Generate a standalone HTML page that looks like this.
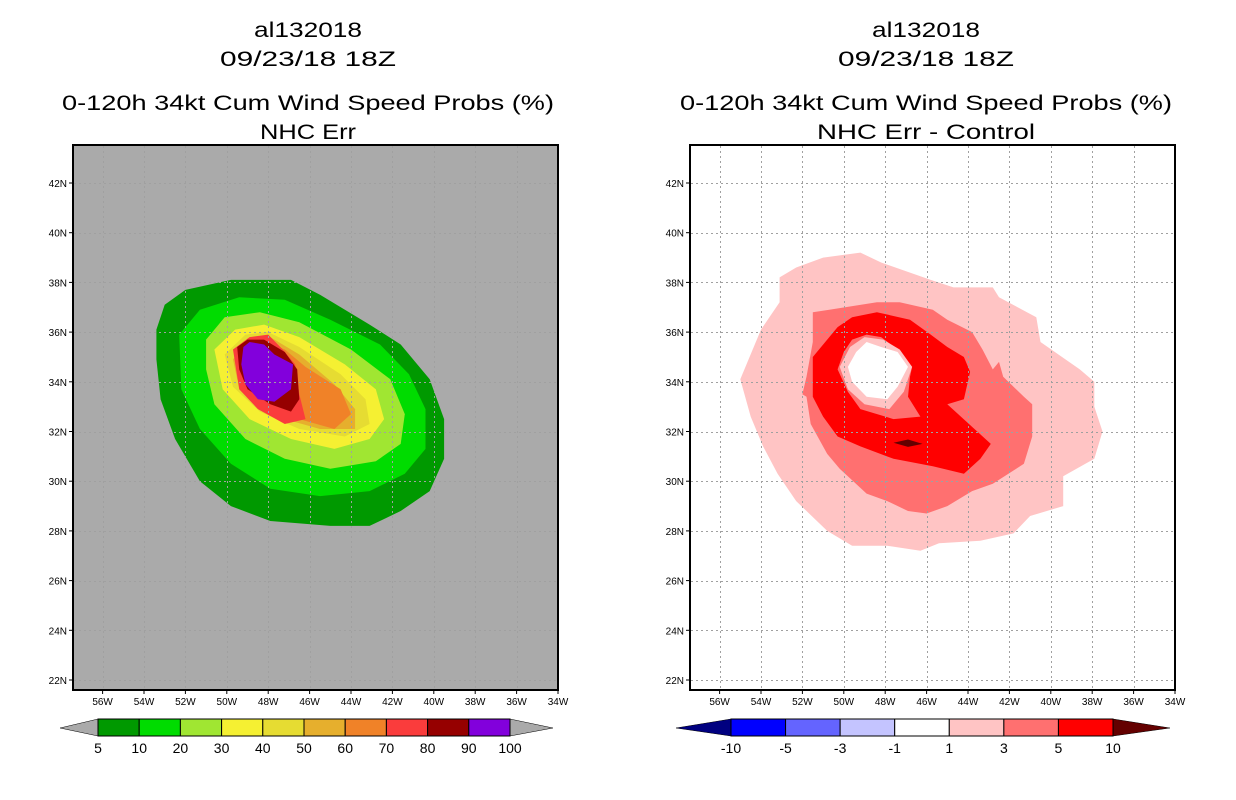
<!DOCTYPE html>
<html><head><meta charset="utf-8"><style>
html,body{margin:0;padding:0;background:#fff;}
svg{display:block;font-family:"Liberation Sans",sans-serif;}
</style></head><body>
<svg id="svg" width="1236" height="800" viewBox="0 0 1236 800" xmlns="http://www.w3.org/2000/svg">
<g font-size="21" text-anchor="middle" fill="#000">
<text x="308" y="37" textLength="108" lengthAdjust="spacingAndGlyphs">al132018</text>
<text x="308" y="66" textLength="176" lengthAdjust="spacingAndGlyphs">09/23/18 18Z</text>
<text x="308" y="110" textLength="492" lengthAdjust="spacingAndGlyphs">0-120h 34kt Cum Wind Speed Probs (%)</text>
<text x="308" y="139" textLength="96" lengthAdjust="spacingAndGlyphs">NHC Err</text>
</g>
<g font-size="21" text-anchor="middle" fill="#000">
<text x="926" y="37" textLength="108" lengthAdjust="spacingAndGlyphs">al132018</text>
<text x="926" y="66" textLength="176" lengthAdjust="spacingAndGlyphs">09/23/18 18Z</text>
<text x="926" y="110" textLength="492" lengthAdjust="spacingAndGlyphs">0-120h 34kt Cum Wind Speed Probs (%)</text>
<text x="926" y="139" textLength="218" lengthAdjust="spacingAndGlyphs">NHC Err - Control</text>
</g>
</svg>
<script>
const lonTicks=[56,54,52,50,48,46,44,42,40,38,36,34];
const latTicks=[42,40,38,36,34,32,30,28,26,24,22];
// Left panel contour polygons [lonW, latN]
const leftLevels=[5,10,20,30,40,50,60,70,80,90];
const leftColors=['#009900','#00dc00','#a0e632','#f5f032','#e6dc32','#e6af2d','#f08228','#fa3c3c','#960000','#8200dc'];
const left5=[[53.4,36.1],[53.0,37.1],[52.0,37.7],[49.8,38.1],[46.9,38.1],[45.5,37.5],[43.1,36.3],[41.6,35.5],[40.2,34.1],[39.5,32.5],[39.5,30.9],[40.2,29.6],[41.6,28.8],[43.1,28.2],[45.0,28.2],[47.9,28.4],[49.8,29.0],[51.3,30.0],[52.5,31.7],[53.2,33.3],[53.4,34.9]];
const left10=[[52.3,35.9],[51.3,36.9],[49.4,37.4],[47.2,37.3],[45.0,36.5],[42.6,35.5],[41.2,34.3],[40.4,32.9],[40.4,31.3],[41.4,30.3],[43.1,29.6],[45.5,29.4],[47.9,29.7],[49.8,30.7],[51.3,32.1],[52.2,33.7]];
const left20=[[51.0,35.7],[50.1,36.6],[48.4,36.8],[46.5,36.4],[44.0,35.3],[42.1,34.1],[41.4,32.7],[41.6,31.5],[42.8,30.8],[45.0,30.5],[47.2,30.9],[49.1,31.7],[50.6,33.1],[51.0,34.5]];
const left30=[[50.6,35.3],[49.6,36.1],[48.2,36.3],[46.5,35.8],[44.3,34.7],[42.8,33.7],[42.4,32.5],[43.1,31.7],[44.8,31.3],[46.9,31.7],[48.9,32.5],[50.2,33.7]];
const left40=[[50.1,35.1],[49.1,35.9],[48.0,36.0],[46.5,35.4],[44.5,34.3],[43.3,33.3],[43.1,32.3],[44.3,31.8],[46.5,32.1],[48.4,32.8],[49.7,33.8]];
const left50=[[49.7,34.9],[48.9,35.7],[47.9,35.8],[46.5,35.1],[44.8,33.9],[43.8,32.9],[43.8,32.1],[45.5,32.1],[47.2,32.5],[48.6,33.2],[49.5,34.1]];
const left60=[[49.4,35.1],[48.4,35.7],[47.2,35.3],[46.2,34.6],[44.5,33.7],[44.0,32.7],[44.8,32.1],[46.5,32.5],[47.9,33.1],[49.0,33.9]];
const left70=[[49.7,35.3],[48.9,35.8],[48.0,35.9],[47.3,35.3],[46.7,34.7],[46.5,33.5],[46.2,32.5],[47.2,32.3],[48.5,32.9],[49.4,33.7]];
const left80=[[49.5,35.4],[49.0,35.7],[48.2,35.7],[47.2,35.2],[46.6,34.5],[46.5,33.3],[46.9,32.8],[47.9,33.1],[49.0,33.7],[49.4,34.5]];
const left90=[[49.2,35.4],[48.9,35.6],[48.2,35.5],[47.7,35.1],[46.8,34.7],[46.9,33.7],[47.7,33.2],[48.5,33.3],[49.1,33.9],[49.3,34.7]];
const leftPolys=[left5,left10,left20,left30,left40,left50,left60,left70,left80,left90];
// Right panel difference contours
const right1=[[53.1,38.2],[52.3,38.6],[51.0,39.0],[49.2,39.2],[48.2,38.8],[45.8,38.1],[44.7,37.8],[44.0,37.8],[42.8,37.8],[42.5,37.4],[40.7,36.6],[40.5,35.6],[38.6,34.5],[37.9,34.0],[37.9,33.0],[37.5,32.0],[37.9,30.9],[39.4,30.2],[39.4,29.0],[41.0,28.6],[41.8,27.9],[43.4,27.6],[45.4,27.5],[46.3,27.2],[47.9,27.4],[49.6,27.4],[50.8,28.0],[52.3,29.2],[53.2,30.3],[53.9,31.4],[54.5,32.6],[55.0,34.1],[54.4,35.3],[54.0,36.1],[53.1,37.2]];
const right3=[[51.5,36.8],[50.7,36.9],[48.4,37.2],[47.3,37.2],[45.7,36.9],[45.0,36.5],[43.8,36.0],[43.3,35.3],[42.8,34.5],[42.5,34.8],[42.3,34.2],[41.3,33.4],[40.9,33.1],[40.9,31.8],[41.3,30.7],[42.8,29.9],[43.8,29.6],[45.0,29.0],[46.0,28.7],[46.9,28.8],[47.9,29.2],[48.9,29.5],[50.2,30.5],[50.8,31.1],[51.6,32.3],[51.8,33.4],[52.0,33.5],[51.8,34.2],[51.5,35.6]];
const right5=[[50.3,36.2],[49.6,36.6],[48.4,36.8],[46.8,36.5],[45.8,35.9],[45.0,35.4],[44.2,35.0],[43.9,34.4],[44.2,33.3],[45.0,33.1],[42.9,31.5],[43.4,30.9],[44.2,30.3],[45.7,30.6],[47.6,30.9],[49.2,31.4],[50.3,31.8],[51.0,32.6],[51.5,33.4],[51.5,35.0]];
const rightHole3=[[48.9,35.9],[48.2,35.8],[47.4,35.3],[46.7,34.6],[46.8,34.2],[46.9,33.4],[46.3,32.6],[47.6,32.5],[49.2,32.9],[49.8,33.6],[50.3,34.5],[50.0,35.2],[49.6,35.7]];
const rightHole1=[[49.0,35.8],[48.1,35.7],[47.3,35.3],[46.7,34.6],[47.1,33.6],[47.8,32.9],[49.0,33.1],[49.8,33.7],[50.2,34.6],[49.7,35.4]];
const rightHole0=[[48.9,35.6],[48.2,35.4],[47.4,35.2],[46.9,34.6],[47.4,33.8],[47.9,33.3],[48.9,33.4],[49.6,34.0],[49.8,34.6],[49.4,35.2]];
const right10=[[47.6,31.55],[46.9,31.68],[46.2,31.5],[46.9,31.38]];
const rightPolys=[right1,right3,right5,rightHole3,rightHole1,rightHole0,right10];
const rightColors=['#ffc4c4','#ff7070','#ff0000','#ff7070','#ffc4c4','#ffffff','#640000'];
const leftCbLabels=['5','10','20','30','40','50','60','70','80','90','100'];
const rightCbLabels=['-10','-5','-3','-1','1','3','5','10'];
const rightCbColors=['#0000ff','#6464ff','#c4c4ff','#ffffff','#ffc4c4','#ff7070','#ff0000'];

const NS='http://www.w3.org/2000/svg';
const svg=document.getElementById('svg');
function mk(tag,attrs,parent){const e=document.createElementNS(NS,tag);for(const k in attrs)e.setAttribute(k,attrs[k]);(parent||svg).appendChild(e);return e;}
const PX_PER_LON=20.7, PX_PER_LAT=24.85;
function makeAxes(x1){return {x:lon=>x1-(lon-34)*PX_PER_LON,y:lat=>183+(42-lat)*PX_PER_LAT};}
function panel(name,x0,x1,bg,polys,colors){
  const ax=makeAxes(x1);
  const g=mk('g',{});
  
  
  const cp=mk('clipPath',{id:name+'-clip'},g);mk('rect',{x:x0,y:145,width:x1-x0,height:545},cp);
  const bgr=mk('rect',{x:x0,y:145,width:x1-x0,height:545,fill:bg},g);
  
  
  const fg=mk('g',{'clip-path':'url(#'+name+'-clip)'},g);
  polys.forEach((p,i)=>{
    const pl=mk('polygon',{points:p.map(q=>ax.x(q[0]).toFixed(1)+','+ax.y(q[1]).toFixed(1)).join(' '),fill:colors[i]},fg);
    
    
  });
  const gg=mk('g',{stroke:'#a0a0a0','stroke-width':1,'stroke-dasharray':'2,3'},g);
  
  
  lonTicks.forEach(l=>{const x=Math.round(ax.x(l))+0.5;if(x<x1-2)mk('line',{x1:x,x2:x,y1:146,y2:689},gg);});
  latTicks.forEach(l=>{const y=Math.round(ax.y(l))+0.5;mk('line',{x1:x0+1,x2:x1-1,y1:y,y2:y},gg);});
  const fr=mk('rect',{x:x0,y:145,width:x1-x0,height:545,fill:'none',stroke:'#000','stroke-width':2},g);
  
  
  const tl=mk('g',{'font-size':10,fill:'#000'},g);
  
  
  latTicks.forEach(l=>{const y=ax.y(l);mk('line',{x1:x0-4,x2:x0,y1:y,y2:y,stroke:'#000'},tl);
    const t=mk('text',{x:x0-6,y:y+4,'text-anchor':'end'},tl);t.textContent=l+'N';
    
    });
  lonTicks.forEach(l=>{const x=ax.x(l);mk('line',{x1:x,x2:x,y1:690,y2:694,stroke:'#000'},tl);
    const t=mk('text',{x:x,y:705,'text-anchor':'middle'},tl);t.textContent=l+'W';
    
    });
}
panel('left-map',73,558,'#aaaaaa',leftPolys,leftColors);
panel('right-map',690,1175,'#ffffff',rightPolys,rightColors);

function colorbar(name,x0,x1,tipL,tipR,cols,labels,lc,rc){
  const g=mk('g',{});
  
  
  const w=(x1-x0)/cols.length;
  mk('polygon',{points:`${tipL},728 ${x0},719 ${x0},736`,fill:lc,stroke:'#000','stroke-width':0.5},g);
  mk('polygon',{points:`${tipR},728 ${x1},719 ${x1},736`,fill:rc,stroke:'#000','stroke-width':0.5},g);
  cols.forEach((c,i)=>{const r=mk('rect',{x:x0+i*w,y:719,width:w,height:17,fill:c,stroke:'#000','stroke-width':1},g);
    
    });
  labels.forEach((s,i)=>{const t=mk('text',{x:x0+i*w,y:753,'text-anchor':'middle','font-size':14},g);t.textContent=s;
    
    });
}
colorbar('left-colorbar',98,510,60,553,leftColors,leftCbLabels,'#aaaaaa','#aaaaaa');
colorbar('right-colorbar',731,1113,676,1170,rightCbColors,rightCbLabels,'#000080','#640000');
</script>
</body></html>
